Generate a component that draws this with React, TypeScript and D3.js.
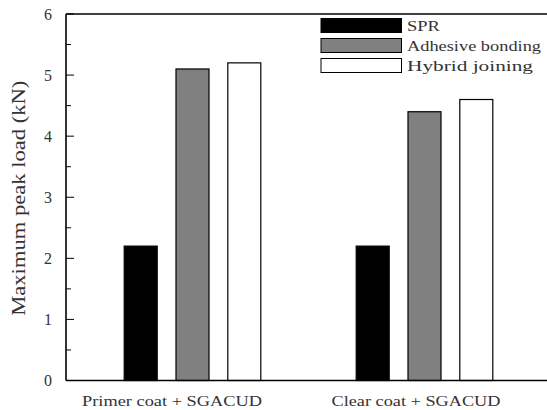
import React from "react";
import * as d3 from "d3";

const categories = ["Primer coat + SGACUD", "Clear coat + SGACUD"];
const seriesNames = ["SPR", "Adhesive bonding", "Hybrid joining"];
const seriesColors = ["#000000", "#808080", "#ffffff"];
const sprValues = [2.2, 2.2];
const adhesiveValues = [5.1, 4.4];
const hybridValues = [5.2, 4.6];
const yTicks = [0, 1, 2, 3, 4, 5, 6];
const yMinorTicks = [0.5, 1.5, 2.5, 3.5, 4.5, 5.5];

const W = 547;
const H = 410;
const left = 66;
const right = 547;
const top = 14;
const bottom = 380.5;
const font = "'Liberation Serif', 'DejaVu Serif', serif";

export default function App() {
  const y = d3.scaleLinear().domain([0, 6]).range([bottom, top]);
  // group centers (category index -> x of middle bar)
  const xg = d3.scaleLinear().domain([0, 1]).range([192.5, 424.5]);
  const barW = 33;
  const step = 51.8;
  const series = [sprValues, adhesiveValues, hybridValues];
  const labelX = [172, 416];
  const labelW = [180, 169];
  const legendW = [33, 134, 126];

  return (
    <svg width={W} height={H} style={{ position: "absolute", left: 0, top: 0, background: "#fff" }}>
      <rect x={0} y={0} width={W} height={H} fill="#fff" />
      {series.map((vals, si) =>
        vals.map((v, ci) => {
          const cx = xg(ci) + (si - 1) * step;
          return (
            <rect
              key={`${si}-${ci}`}
              x={cx - barW / 2}
              y={y(v)}
              width={barW}
              height={y(0) - y(v)}
              fill={seriesColors[si]}
              stroke="#000"
              strokeWidth={1.2}
            />
          );
        })
      )}
      {/* axes */}
      <line x1={left} x2={right} y1={top} y2={top} stroke="#000" strokeWidth={1.6} />
      <line x1={left} x2={right} y1={bottom} y2={bottom} stroke="#000" strokeWidth={1.6} />
      <line x1={left} x2={left} y1={top} y2={bottom} stroke="#000" strokeWidth={1.6} />
      {yTicks.map((t) => (
        <g key={t}>
          <line x1={left} x2={left + 8} y1={y(t)} y2={y(t)} stroke="#000" strokeWidth={1} />
          <text x={52} y={y(t)} dy="0.35em" textAnchor="end" fontFamily={font} fontSize={16} fill="#333">
            {t}
          </text>
        </g>
      ))}
      {yMinorTicks.map((t) => (
        <line key={t} x1={left} x2={left + 5} y1={y(t)} y2={y(t)} stroke="#000" strokeWidth={1} />
      ))}
      {categories.map((c, i) => (
        <text
          key={c}
          x={labelX[i]}
          y={406}
          textAnchor="middle"
          fontFamily={font}
          fontSize={15}
          fill="#333"
          textLength={labelW[i]}
          lengthAdjust="spacingAndGlyphs"
        >
          {c}
        </text>
      ))}
      <text
        transform={`translate(25,${(top + bottom) / 2 + 1}) rotate(-90)`}
        textAnchor="middle"
        fontFamily={font}
        fontSize={18}
        fill="#333"
        textLength={235}
        lengthAdjust="spacingAndGlyphs"
      >
        Maximum peak load (kN)
      </text>
      {/* legend */}
      {seriesNames.map((n, i) => {
        const ly = 18.5 + i * 20;
        return (
          <g key={n}>
            <rect x={321} y={ly} width={80.5} height={14} fill={seriesColors[i]} stroke="#000" strokeWidth={1} />
            <text
              x={407}
              y={ly + 7}
              dy="0.35em"
              fontFamily={font}
              fontSize={15}
              fill="#333"
              textLength={legendW[i]}
              lengthAdjust="spacingAndGlyphs"
            >
              {n}
            </text>
          </g>
        );
      })}
    </svg>
  );
}
